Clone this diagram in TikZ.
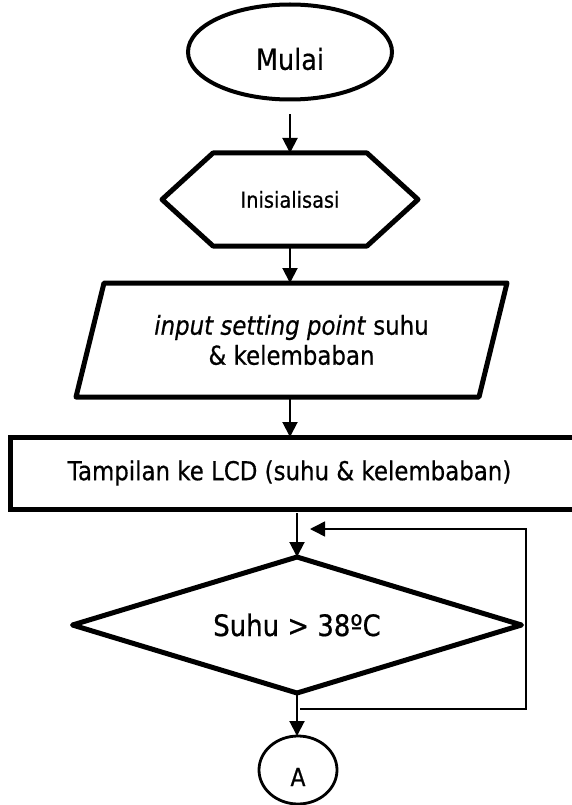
\documentclass[tikz,border=0pt]{standalone}
\usepackage{fontspec}
\setmainfont{DejaVu Sans}[FakeStretch=0.88,FakeBold=0.6]
\usetikzlibrary{arrows.meta,shapes.geometric}
\begin{document}
\begin{tikzpicture}[x=1pt,y=-1pt,
  box/.style={inner sep=0pt, outer sep=0pt},
  thickline/.style={line width=5pt, line join=round},
  arr/.style={line width=2pt, -{Triangle[length=15pt,width=15pt]}},
  loopline/.style={line width=1.5pt, -{Triangle[length=15pt,width=15pt]}},
  fs/.style={font=\fontsize{#1}{32}\selectfont, align=center}]
\useasboundingbox (0,0) rectangle (571,805);
% Mulai
\node[ellipse, draw, line width=4pt, minimum width=204pt, minimum height=95pt, inner sep=0pt] (start) at (290,52) {};
\node[box, fs=29] (starttext) at (290,59) {Mulai};
% Inisialisasi (hexagon)
\node[box, minimum width=256pt, minimum height=93pt, fs=22] (init) at (290,199.5) {\raisebox{-1pt}{Inisialisasi}};
\draw[thickline] (init.west) -- ([xshift=51pt]init.north west) -- ([xshift=-51pt]init.north east)
  -- (init.east) -- ([xshift=-51pt]init.south east) -- ([xshift=51pt]init.south west) -- cycle;
% input (parallelogram)
\node[box, minimum width=431pt, minimum height=114pt, fs=26] (inp) at (291.5,340) {\textit{input setting point} suhu\\[-2pt]\& kelembaban};
\draw[thickline] ([xshift=28pt]inp.north west) -- (inp.north east) -- ([xshift=-28pt]inp.south east) -- (inp.south west) -- cycle;
% LCD (rectangle)
\node[draw, line width=5pt, minimum width=564pt, minimum height=72pt, inner sep=0pt, outer sep=0pt, fs=26] (lcd) at (292,473) {\hspace*{-5pt}\raisebox{-1pt}{Tampilan ke LCD (suhu \& kelembaban)}};
% decision (diamond)
\node[box, minimum width=449pt, minimum height=136pt, fs=29.5] (dec) at (297,625) {\raisebox{-2pt}{Suhu > 38ºC}};
\draw[thickline] (dec.north) -- (dec.east) -- (dec.south) -- (dec.west) -- cycle;
% connector A
\node[ellipse, draw, line width=2.8pt, minimum width=78pt, minimum height=68pt, inner sep=0pt, outer sep=0pt] (conn) at (298,770) {};
\node[box, fs=25] (conntext) at (298,777) {A};
% arrows
\draw[arr] ([yshift=-13pt]start.south) -- (init.north);
\draw[arr] (init.south) -- (init.south |- inp.north);
\draw[arr] (inp.south -| init.south) -- (init.south |- lcd.north);
\draw[arr] ([yshift=-4pt]lcd.south -| dec.north) -- (dec.north);
\draw[arr] (dec.south) -- (dec.south |- conn.north);
% loop back
\coordinate (ls) at (300,709);
\coordinate (lc) at (526,709);
\coordinate (le) at (310,529);
\draw[loopline] (ls) -- (lc) |- (le);
\end{tikzpicture}
\end{document}
